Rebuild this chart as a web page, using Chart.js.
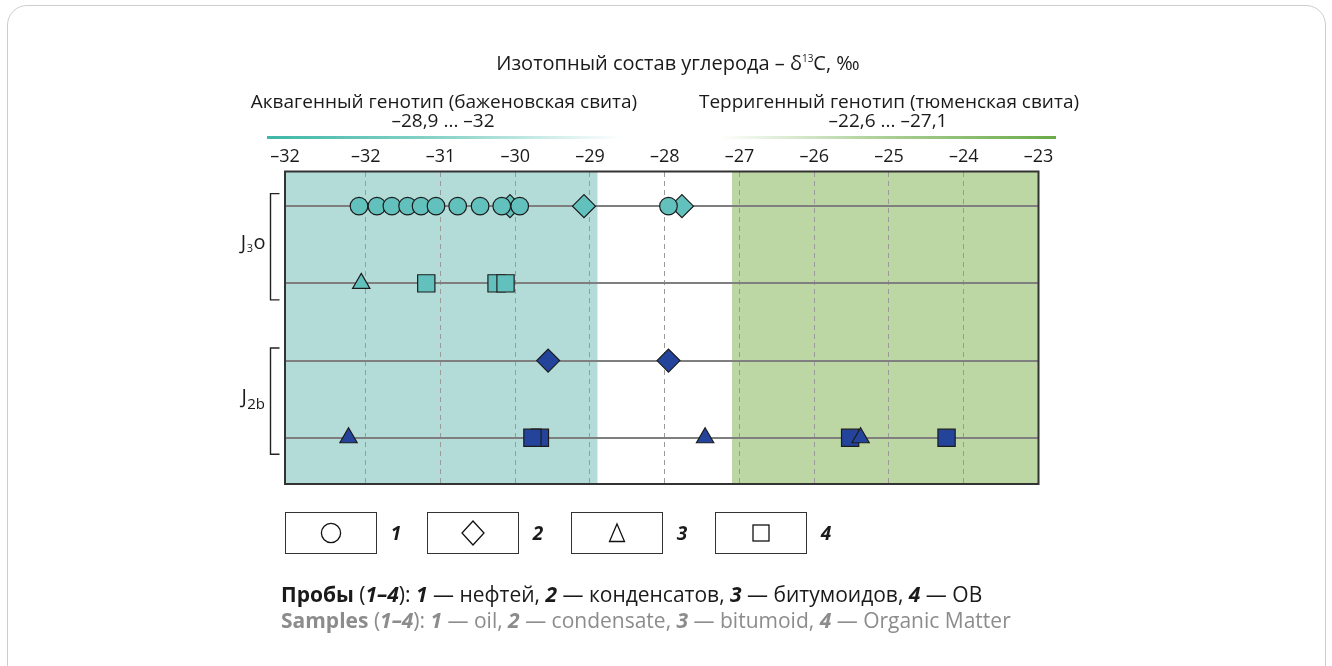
<!DOCTYPE html>
<html>
<head>
<meta charset="utf-8">
<script src="https://cdn.jsdelivr.net/npm/chart.js@4/dist/chart.umd.min.js"></script>
<style>
html,body{margin:0;padding:0;background:#fff;}
#wrap{position:relative;width:1332px;height:666px;overflow:hidden;font-family:'Open Sans',sans-serif;color:#1a1a1a;}
#frame{position:absolute;left:7px;top:5px;width:1319px;height:690px;border:1.5px solid #cdcdcd;border-radius:20px;box-sizing:border-box;}
#c{position:absolute;left:0;top:0;}
.t{position:absolute;white-space:nowrap;transform:translate(-50%,-50%);font-size:19px;line-height:1;}
.l{position:absolute;white-space:nowrap;transform:translateY(-50%);font-size:21px;line-height:1;}
.sup{position:relative;top:-8px;font-size:10px;}
.grad{position:absolute;height:3px;}
.box{position:absolute;top:512px;width:92px;height:42px;border:1.3px solid #333;box-sizing:border-box;display:flex;align-items:center;justify-content:center;background:#fff;}
.num{position:absolute;top:533px;transform:translate(-50%,-50%);font-size:19px;font-weight:700;font-style:italic;line-height:1;}
b i, i b{font-weight:700;font-style:italic;}
.gray{color:#8c8c8c;}
</style>
</head>
<body>
<div id="wrap">
  <div id="frame"></div>
  <canvas id="c" width="1332" height="666"></canvas>

  <div class="t" style="left:678px;top:63px;font-size:20px;">Изотопный состав углерода – δ<span class="sup">13</span>C, ‰</div>
  <div class="t" style="left:444px;top:101px;">Аквагенный генотип (баженовская свита)</div>
  <div class="t" style="left:443px;top:120px;">–28,9 ... –32</div>
  <div class="t" style="left:889px;top:101px;">Терригенный генотип (тюменская свита)</div>
  <div class="t" style="left:888px;top:120px;">–22,6 ... –27,1</div>
  <div class="grad" style="left:267px;top:136px;width:354px;background:linear-gradient(to right,#3db7a6,rgba(61,183,166,0.55) 55%,rgba(255,255,255,0));"></div>
  <div class="grad" style="left:719px;top:136px;width:337px;background:linear-gradient(to right,rgba(255,255,255,0),rgba(112,174,76,0.55) 45%,#6aab48);"></div>

  <div class="box" style="left:285px;"><svg width="24" height="24"><circle cx="12" cy="12" r="9.6" fill="none" stroke="#111" stroke-width="1.3"/></svg></div>
  <div class="num" style="left:396px;">1</div>
  <div class="box" style="left:427px;"><svg width="26" height="28"><polygon points="13,2 24,14 13,26 2,14" fill="none" stroke="#111" stroke-width="1.3"/></svg></div>
  <div class="num" style="left:538px;">2</div>
  <div class="box" style="left:571px;"><svg width="20" height="22"><polygon points="10,2 17.5,19.5 2.5,19.5" fill="none" stroke="#111" stroke-width="1.3"/></svg></div>
  <div class="num" style="left:682px;">3</div>
  <div class="box" style="left:715px;"><svg width="20" height="20"><rect x="2" y="2" width="16" height="16" fill="none" stroke="#111" stroke-width="1.3"/></svg></div>
  <div class="num" style="left:826px;">4</div>

  <div class="l" style="left:281px;top:594px;"><b>Пробы</b> (<b><i>1–4</i></b>): <b><i>1</i></b> — нефтей, <b><i>2</i></b> — конденсатов, <b><i>3</i></b> — битумоидов, <b><i>4</i></b> — ОВ</div>
  <div class="l gray" style="left:281px;top:620px;"><b>Samples</b> (<b><i>1–4</i></b>): <b><i>1</i></b> — oil, <b><i>2</i></b> — condensate, <b><i>3</i></b> — bitumoid, <b><i>4</i></b> — Organic Matter</div>
</div>

<script>
// ---- data (δ13C, ‰) ----
const tickValues = [-33.08, -32, -31, -30, -29, -28, -27, -26, -25, -24, -23];
const tickLabels = ['–32', '–32', '–31', '–30', '–29', '–28', '–27', '–26', '–25', '–24', '–23'];
const rows = ['J3o: нефти, конденсаты', 'J3o: битумоиды, ОВ', 'J2b: конденсаты', 'J2b: битумоиды, ОВ'];
const groups = [{sym: 'J', sub: '3', rest: 'o', rows: [0, 1]}, {sym: 'J', sub: '2b', rest: '', rows: [2, 3]}];
const bandAqua = [-33.08, -28.9];
const bandTerra = [-27.1, -23];

const oilJ3o = [-32.09, -31.85, -31.65, -31.44, -31.26, -31.06, -30.77, -30.47, -30.18, -29.94, -27.95];
const condJ3o = [-30.07, -29.08, -27.77];
const bitJ3o = [-32.06];
const omJ3o = [-31.19, -30.25, -30.13];
const condJ2b = [-29.56, -27.95];
const bitJ2b = [-32.23, -27.46, -25.38];
const omJ2b = [-29.67, -29.77, -25.52, -24.23];

const TEAL = '#63c1bd', BLUE = '#24449b', EDGE = '#1c1c1c';
const pts = (arr, row) => arr.map(v => ({x: v, y: row}));

function ds(label, data, color, style, radius, order) {
  return {label, data, pointStyle: style, pointRadius: radius, pointHoverRadius: radius,
    backgroundColor: color, borderColor: EDGE, borderWidth: 1.2, pointBorderWidth: 1.2, order};
}

const bgPlugin = {
  id: 'bands',
  beforeDraw(chart) {
    const {ctx, chartArea: a, scales: {x}} = chart;
    ctx.save();
    ctx.fillStyle = '#b3dcd8';
    let x1 = Math.max(a.left, x.getPixelForValue(bandAqua[0])), x2 = x.getPixelForValue(bandAqua[1]);
    ctx.fillRect(x1, a.top, x2 - x1, a.bottom - a.top);
    ctx.fillStyle = '#bcd7a3';
    x1 = x.getPixelForValue(bandTerra[0]); x2 = Math.min(a.right, x.getPixelForValue(bandTerra[1]));
    ctx.fillRect(x1, a.top, x2 - x1, a.bottom - a.top);
    ctx.restore();
  },
  afterDraw(chart) {
    const {ctx, chartArea: a, scales: {y}} = chart;
    ctx.save();
    ctx.strokeStyle = '#333';
    ctx.lineWidth = 2;
    ctx.strokeRect(a.left, a.top, a.right - a.left, a.bottom - a.top);
    // brackets + formation labels
    ctx.strokeStyle = '#222';
    ctx.lineWidth = 1.4;
    ctx.fillStyle = '#1a1a1a';
    ctx.textBaseline = 'alphabetic';
    groups.forEach(g => {
      const yt = y.getPixelForValue(g.rows[0]) - 12.5;
      const yb = y.getPixelForValue(g.rows[g.rows.length - 1]) + 16.5;
      const xl = a.left - 14.5, xr = a.left - 5.5;
      ctx.beginPath();
      ctx.moveTo(xr, yt); ctx.lineTo(xl, yt); ctx.lineTo(xl, yb); ctx.lineTo(xr, yb);
      ctx.stroke();
      const mid = (yt + yb) / 2 - 5;
      const big = "20px 'Open Sans'", small = g.sub.length > 1 ? "15px 'Open Sans'" : "11px 'Open Sans'";
      ctx.font = big; const wJ = ctx.measureText(g.sym).width; const wR = ctx.measureText(g.rest).width;
      ctx.font = small; const wS = ctx.measureText(g.sub).width;
      const right = a.left - 19.5;
      let xs = right - (wJ + wS + wR + 1);
      const base = mid + 7;
      ctx.font = big; ctx.fillText(g.sym, xs, base); xs += wJ + 0.5;
      ctx.font = small; ctx.fillText(g.sub, xs, base + (g.sub.length > 1 ? 6 : 3)); xs += wS + 0.5;
      ctx.font = big; ctx.fillText(g.rest, xs, base);
    });
    ctx.restore();
  }
};

new Chart(document.getElementById('c'), {
  type: 'scatter',
  data: {
    datasets: [
      ds('1 — нефти, J3o', pts(oilJ3o, 0), TEAL, 'circle', 8.8, 0),
      ds('3 — битумоиды, J3o', pts(bitJ3o, 1), TEAL, 'triangle', 10, 1),
      ds('3 — битумоиды, J2b', pts(bitJ2b, 3), BLUE, 'triangle', 10, 1),
      ds('2 — конденсаты, J3o', pts(condJ3o, 0), TEAL, 'rectRot', 11.5, 2),
      ds('2 — конденсаты, J2b', pts(condJ2b, 2), BLUE, 'rectRot', 11.5, 2),
      ds('4 — ОВ, J3o', pts(omJ3o, 1), TEAL, 'rect', 12.2, 3),
      ds('4 — ОВ, J2b', pts(omJ2b, 3), BLUE, 'rect', 12.2, 3)
    ]
  },
  options: {
    responsive: false,
    devicePixelRatio: 1,
    animation: false,
    events: [],
    layout: {padding: {left: 285, right: 293.5, top: 141.5, bottom: 182}},
    plugins: {legend: {display: false}, tooltip: {enabled: false}},
    scales: {
      x: {
        type: 'linear', position: 'top', min: tickValues[0], max: tickValues[tickValues.length - 1],
        afterBuildTicks: s => { s.ticks = tickValues.map(v => ({value: v})); },
        afterFit: s => { s.height = 30; },
        ticks: {
          callback: (v, i) => tickLabels[i],
          autoSkip: false, maxRotation: 0, padding: 4,
          color: '#1a1a1a', font: {family: "'Open Sans'", size: 18}
        },
        grid: {color: '#9a9a9a', lineWidth: 1, drawTicks: false},
        border: {display: false, dash: [5, 4]}
      },
      y: {
        type: 'linear', reverse: true, min: -0.449, max: 3.599,
        afterBuildTicks: s => { s.ticks = rows.map((r, i) => ({value: i})); },
        afterFit: s => { s.width = 0; },
        ticks: {display: false},
        grid: {color: '#7f7f7f', lineWidth: 2, drawTicks: false},
        border: {display: false}
      }
    }
  },
  plugins: [bgPlugin]
});
</script>
</body>
</html>
